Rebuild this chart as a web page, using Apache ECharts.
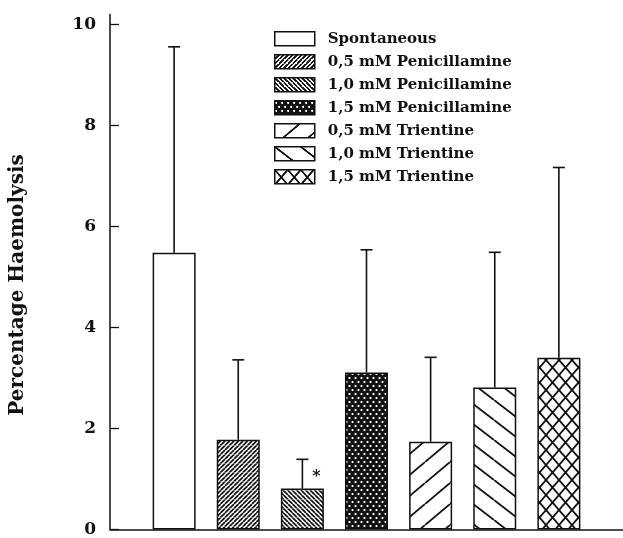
<!DOCTYPE html>
<html>
<head>
<meta charset="utf-8">
<script src="https://cdn.jsdelivr.net/npm/echarts@6/dist/echarts.min.js"></script>
<style>
  html, body { margin: 0; padding: 0; background: #fff; }
  #myBar { width: 623px; height: 538px; }
</style>
</head>
<body>
<div id="myBar"></div>
<script>
// data
const groups = [
  "Spontaneous",
  "0,5 mM Penicillamine",
  "1,0 mM Penicillamine",
  "1,5 mM Penicillamine",
  "0,5 mM Trientine",
  "1,0 mM Trientine",
  "1,5 mM Trientine"
];
const means = [5.48, 1.78, 0.81, 3.11, 1.74, 2.81, 3.40];
const upper = [9.56, 3.36, 1.39, 5.54, 3.41, 5.49, 7.17]; // top of error bar
const marks = ["", "", "*", "", "", "", ""];
const yTicks = [0, 2, 4, 6, 8, 10];
const patterns = ["none", "denseUp", "denseDown", "dots", "sparseUp", "sparseDown", "cross"];

const font = "DejaVu Serif";

// 填充图案
function makePattern(kind) {
  if (kind === "none") return "#fff";
  let w = 4.5, h = 4.5;
  if (kind === "dots") { w = 6; h = 8; }
  if (kind === "sparseUp") { w = 25; h = 21; }
  if (kind === "sparseDown") { w = 26; h = 20; }
  if (kind === "cross") { w = 13; h = 15; }
  const c = document.createElement("canvas");
  c.width = Math.round(w * 2);
  c.height = Math.round(h * 2);
  const ctx = c.getContext("2d");
  ctx.scale(2, 2);
  ctx.fillStyle = kind === "dots" ? "#111" : "#fff";
  ctx.fillRect(0, 0, w, h);
  ctx.strokeStyle = "#111";
  ctx.lineWidth = (kind === "denseUp" || kind === "denseDown") ? 1.7 : 1.8;
  const up = () => {
    for (let k = -1; k <= 1; k++) {
      ctx.beginPath();
      ctx.moveTo(k * w, h);
      ctx.lineTo(k * w + w, 0);
      ctx.stroke();
    }
  };
  const down = () => {
    for (let k = -1; k <= 1; k++) {
      ctx.beginPath();
      ctx.moveTo(k * w, 0);
      ctx.lineTo(k * w + w, h);
      ctx.stroke();
    }
  };
  if (kind === "denseUp" || kind === "sparseUp") up();
  if (kind === "denseDown" || kind === "sparseDown") down();
  if (kind === "cross") { up(); down(); }
  if (kind === "dots") {
    ctx.fillStyle = "#fff";
    [[1.5, 2], [4.5, 6]].forEach(p => {
      ctx.beginPath();
      ctx.arc(p[0], p[1], 1.1, 0, Math.PI * 2);
      ctx.fill();
    });
  }
  return { image: c, repeat: "repeat", scaleX: 0.5, scaleY: 0.5 };
}

let barSeries = groups.map((name, i) => ({
  name: name,
  type: "bar",
  barWidth: 43,
  barGap: "-100%",
  itemStyle: {
    color: makePattern(patterns[i]),
    borderColor: "#111",
    borderWidth: 1.5
  },
  data: [[i + 1, means[i]]]
}));

let errData = groups.map((g, i) => [i + 1, means[i], upper[i], marks[i]]);

let errSeries = {
  type: "custom",
  name: "err",
  silent: true,
  renderItem: function(params, api) {
    const x = api.value(0);
    const lo = api.coord([x, api.value(1)]);
    const hi = api.coord([x, api.value(2)]);
    const style = { stroke: "#111", lineWidth: 1.6 };
    const children = [
      { type: "line", shape: { x1: lo[0], y1: lo[1], x2: hi[0], y2: hi[1] }, style: style },
      { type: "line", shape: { x1: hi[0] - 6, y1: hi[1], x2: hi[0] + 6, y2: hi[1] }, style: style }
    ];
    const m = errData[params.dataIndex][3];
    if (m) {
      children.push({
        type: "text",
        style: {
          text: m, x: hi[0] + 14, y: hi[1] + 18,
          font: "bold 16px " + font, fill: "#111", align: "center", verticalAlign: "middle"
        }
      });
    }
    return { type: "group", children: children };
  },
  data: errData,
  z: 3
};

let option = {
  backgroundColor: "#fff",
  animation: false,
  grid: { left: 108, right: 0, top: 14.5, bottom: 5.5 },
  legend: {
    data: groups,
    orient: "vertical",
    left: 269,
    top: 26,
    itemWidth: 40,
    itemHeight: 14,
    itemGap: 7.5,
    icon: "rect",
    itemStyle: { borderColor: "#111", borderWidth: 1.5 },
    textStyle: {
      fontFamily: font,
      fontWeight: "bold",
      fontSize: 15,
      color: "#111",
      padding: [0, 0, 0, 8]
    }
  },
  xAxis: {
    type: "value",
    min: 0,
    max: 8,
    axisLine: { lineStyle: { color: "#111", width: 1.5 } },
    axisTick: { show: false },
    axisLabel: { show: false },
    splitLine: { show: false }
  },
  yAxis: {
    type: "value",
    min: 0,
    max: 10.2,
    name: "Percentage Haemolysis",
    nameLocation: "middle",
    nameGap: 82,
    nameRotate: 90,
    nameTextStyle: { fontFamily: font, fontWeight: "bold", fontSize: 20, color: "#111", padding: [0, 26, 0, 0] },
    axisLine: { show: true, lineStyle: { color: "#111", width: 1.5 } },
    axisTick: { show: true, inside: true, length: 9, customValues: yTicks, lineStyle: { color: "#111", width: 1.3 } },
    axisLabel: { customValues: yTicks, margin: 14, fontFamily: font, fontWeight: "bold", fontSize: 17, color: "#111" },
    splitLine: { show: false }
  },
  series: barSeries.concat([errSeries])
};

let myBar = echarts.init(document.querySelector("#myBar"));
myBar.setOption(option);
</script>
</body>
</html>
